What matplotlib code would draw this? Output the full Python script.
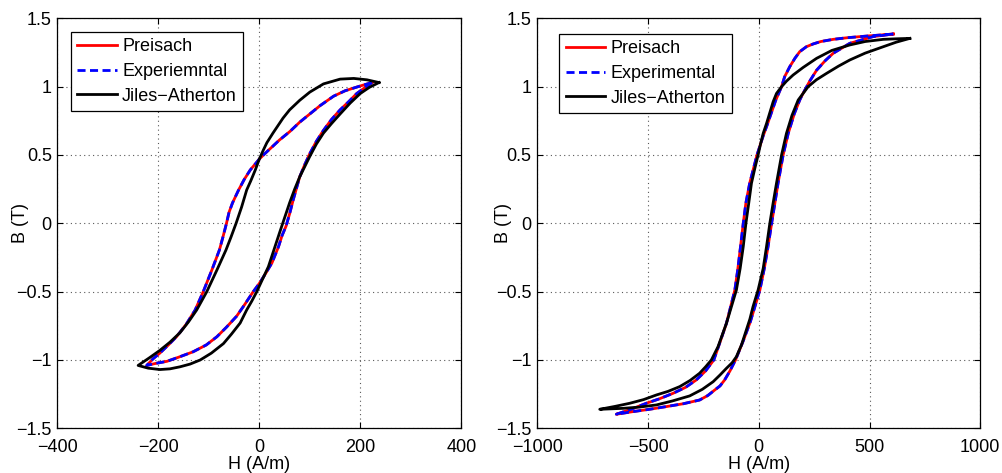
import matplotlib.pyplot as plt
import matplotlib.ticker as ticker

plt.rcParams["font.family"] = ["Liberation Sans", "DejaVu Sans"]
plt.rcParams["font.size"] = 13

# ---- left loop (H in A/m, B in T) ----
# Preisach / experimental: descending branch then ascending branch
l_pre_down_H = [223, 200, 170, 147, 120, 100, 80, 60, 40, 27, 11, 0, -18, -30, -41, -53, -60, -65, -72, -79,
                -94, -111, -127, -145, -164, -180, -197, -210, -223]
l_pre_down_B = [1.03, 1.005, 0.97, 0.93, 0.86, 0.80, 0.74, 0.67, 0.61, 0.565, 0.51, 0.47, 0.39, 0.32, 0.244, 0.15,
                0.08, 0.0, -0.1, -0.195, -0.342, -0.5, -0.634, -0.74, -0.83, -0.89, -0.95, -0.99, -1.04]
l_pre_up_H = [-223, -205, -183, -160, -131, -105, -84, -65, -45, -30, -12, 0, 12, 25, 38, 45, 53, 60, 67, 80,
              90, 100, 113, 127, 143, 160, 177, 193, 208, 223]
l_pre_up_B = [-1.04, -1.025, -1.01, -0.98, -0.94, -0.89, -0.83, -0.76, -0.68, -0.60, -0.5, -0.44, -0.37, -0.29,
              -0.171, -0.09, -0.02, 0.07, 0.17, 0.34, 0.43, 0.51, 0.60, 0.68, 0.76, 0.83, 0.89, 0.95, 0.99, 1.03]
# Jiles-Atherton
l_ja_down_H = [237, 213, 187, 160, 127, 100, 80, 60, 47, 27, 15, 8, 0, -8, -17, -25, -35, -46, -56, -66, -84,
               -104, -124, -140, -157, -177, -197, -218, -240]
l_ja_down_B = [1.03, 1.05, 1.06, 1.055, 1.02, 0.96, 0.90, 0.83, 0.77, 0.66, 0.59, 0.536, 0.47, 0.39, 0.31, 0.244,
               0.12, 0.0, -0.1, -0.195, -0.342, -0.5, -0.634, -0.72, -0.80, -0.87, -0.93, -0.985, -1.04]
l_ja_up_H = [-240, -220, -197, -177, -157, -137, -117, -95, -71, -55, -38, -25, -15, -5, 5, 18, 31, 40, 50, 60,
             70, 80, 100, 113, 127, 143, 160, 180, 200, 218, 237]
l_ja_up_B = [-1.04, -1.06, -1.07, -1.065, -1.05, -1.03, -1.0, -0.95, -0.88, -0.81, -0.73, -0.634, -0.57, -0.5,
             -0.42, -0.317, -0.171, -0.07, 0.04, 0.15, 0.25, 0.34, 0.49, 0.58, 0.66, 0.73, 0.80, 0.88, 0.95, 0.995, 1.03]

# ---- right loop ----
r_pre_down_H = [607, 487, 400, 336, 280, 245, 215, 185, 163, 140, 117, 103, 77, 55, 38, 20, -8, -41, -58, -70,
                -83, -95, -108, -146, -175, -203, -240, -282, -330, -387, -450, -508, -575, -643]
r_pre_down_B = [1.385, 1.370, 1.358, 1.346, 1.33, 1.312, 1.292, 1.256, 1.207, 1.146, 1.073, 1.0, 0.902, 0.80,
                0.72, 0.64, 0.5, 0.293, 0.15, 0.0, -0.18, -0.34, -0.488, -0.732, -0.87, -1.0, -1.08, -1.146,
                -1.20, -1.244, -1.285, -1.317, -1.36, -1.397]
r_pre_up_H = [-643, -568, -490, -417, -340, -267, -230, -199, -175, -154, -130, -105, -70, -38, -12, 5, 25, 42,
              58, 73, 87, 110, 133, 160, 185, 200, 230, 261, 300, 336, 411, 516, 607]
r_pre_up_B = [-1.397, -1.378, -1.36, -1.341, -1.32, -1.293, -1.26, -1.22, -1.19, -1.146, -1.08, -1.0, -0.86,
              -0.72, -0.58, -0.488, -0.33, -0.17, 0.0, 0.15, 0.293, 0.5, 0.658, 0.80, 0.902, 0.951, 1.04, 1.12,
              1.19, 1.244, 1.317, 1.366, 1.385]
r_ja_down_H = [682, 620, 562, 480, 411, 330, 261, 200, 155, 125, 103, 80, 65, 50, 35, 20, 8, -3, -18, -33, -45,
               -58, -70, -84, -101, -146, -184, -214, -240, -267, -310, -357, -410, -462, -520, -583, -650, -718]
r_ja_down_B = [1.353, 1.35, 1.346, 1.33, 1.305, 1.265, 1.207, 1.14, 1.085, 1.04, 1.0, 0.95, 0.89, 0.81, 0.73,
               0.658, 0.58, 0.5, 0.40, 0.293, 0.15, 0.0, -0.17, -0.33, -0.488, -0.732, -0.903, -1.0, -1.05,
               -1.097, -1.15, -1.195, -1.23, -1.256, -1.29, -1.317, -1.34, -1.361]
r_ja_up_H = [-718, -613, -540, -462, -390, -312, -255, -206, -175, -146, -120, -101, -78, -56, -40, -26, -3, 20,
             35, 50, 65, 80, 103, 125, 150, 178, 223, 260, 306, 360, 411, 480, 562, 620, 682]
r_ja_up_B = [-1.361, -1.354, -1.345, -1.329, -1.30, -1.263, -1.215, -1.159, -1.11, -1.061, -1.02, -0.976,
             -0.89, -0.78, -0.70, -0.61, -0.488, -0.33, -0.171, 0.0, 0.15, 0.293, 0.5, 0.658, 0.79, 0.902, 1.0,
             1.05, 1.097, 1.15, 1.195, 1.245, 1.292, 1.325, 1.353]

labels = ["Preisach", "Experiemntal", "Jiles\u2212Atherton"]
labels_r = ["Preisach", "Experimental", "Jiles\u2212Atherton"]
l_xticks = [-400, -200, 0, 200, 400]
r_xticks = [-1000, -500, 0, 500, 1000]
yticks = [-1.5, -1, -0.5, 0, 0.5, 1, 1.5]


def fmt(v, p):
    return f"{v:g}".replace("-", "\u2212")


def draw_loop(ax, pre, ja, xticks, names, leg_box, ylab_x):
    H_pre = pre[0] + pre[2]
    B_pre = pre[1] + pre[3]
    H_ja = ja[0] + ja[2]
    B_ja = ja[1] + ja[3]
    ax.plot(H_pre, B_pre, color="#ff0000", lw=2.0, label=names[0])
    ax.plot(H_pre, B_pre, color="#0000ff", lw=2.0, ls=(0, (2.9, 1.6)), label=names[1])
    ax.plot(H_ja, B_ja, color="black", lw=2.0, label=names[2])
    ax.set_xlim(xticks[0], xticks[-1])
    ax.set_ylim(-1.5, 1.5)
    ax.set_xticks(xticks)
    ax.set_yticks(yticks)
    ax.xaxis.set_major_formatter(ticker.FuncFormatter(fmt))
    ax.yaxis.set_major_formatter(ticker.FuncFormatter(fmt))
    ax.tick_params(direction="in", top=True, right=True, length=4, width=0.8)
    ax.tick_params(axis="x", pad=8)
    ax.tick_params(axis="y", pad=4)
    ax.grid(True, color="0.35", linestyle=(0, (1, 3)), linewidth=0.8)
    for s in ax.spines.values():
        s.set_linewidth(0.9)
    ax.set_xlabel("H (A/m)")
    ax.set_ylabel("B (T)")
    ax.xaxis.set_label_coords(0.5, -0.068)
    ax.yaxis.set_label_coords(ylab_x, 0.5)
    leg = ax.legend(loc="upper left", bbox_to_anchor=leg_box, fancybox=False,
                    edgecolor="black", framealpha=1, handlelength=2.2,
                    handletextpad=0.3, labelspacing=0.43, borderpad=0.35,
                    borderaxespad=0)
    leg.get_frame().set_linewidth(0.9)


fig = plt.figure(figsize=(10.02, 4.73), dpi=100)
ax1 = fig.add_axes([0.0572, 0.0945, 0.4032, 0.8668])
ax2 = fig.add_axes([0.5362, 0.0945, 0.4421, 0.8668])

draw_loop(ax1, [l_pre_down_H, l_pre_down_B, l_pre_up_H, l_pre_up_B],
          [l_ja_down_H, l_ja_down_B, l_ja_up_H, l_ja_up_B], l_xticks, labels, (0.033, 0.967), -0.07)
draw_loop(ax2, [r_pre_down_H, r_pre_down_B, r_pre_up_H, r_pre_up_B],
          [r_ja_down_H, r_ja_down_B, r_ja_up_H, r_ja_up_B], r_xticks, labels_r, (0.05, 0.962), -0.057)

fig.savefig("out.png", dpi=100)
